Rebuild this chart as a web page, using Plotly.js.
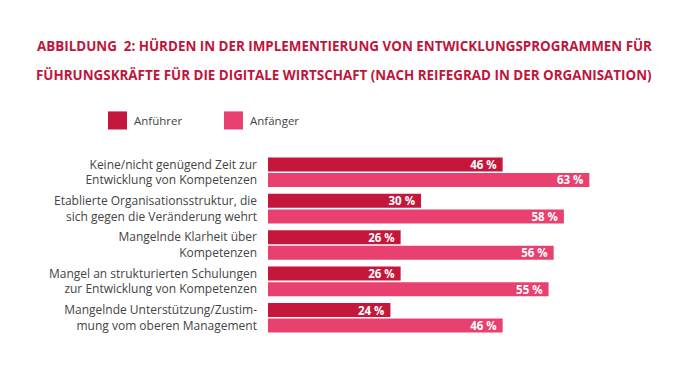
<!DOCTYPE html>
<html><head><meta charset="utf-8">
<script src="https://cdn.plot.ly/plotly-3.0.1.min.js"></script>
<style>body{margin:0;background:#fff}#c{width:696px;height:365px}</style>
</head><body><div id="c"></div>
<script>
var categories = [
  "Keine/nicht genügend Zeit zur<br>Entwicklung von Kompetenzen",
  "Etablierte Organisationsstruktur, die<br>sich gegen die Veränderung wehrt",
  "Mangelnde Klarheit über<br>Kompetenzen",
  "Mangel an strukturierten Schulungen<br>zur Entwicklung von Kompetenzen",
  "Mangelnde Unterstützung/Zustim-<br>mung vom oberen Management"
];
var seriesNames = ["Anführer", "Anfänger"];
var anfuehrer = [46, 30, 26, 26, 24];
var anfaenger = [63, 58, 56, 55, 46];
var colors = ["#C5173B", "#E8406F"];
var titleLines = [
  "ABBILDUNG  2: HÜRDEN IN DER IMPLEMENTIERUNG VON ENTWICKLUNGSPROGRAMMEN FÜR",
  "FÜHRUNGSKRÄFTE FÜR DIE DIGITALE WIRTSCHAFT (NACH REIFEGRAD IN DER ORGANISATION)"
];
var FONT = "Open Sans, sans-serif";
var PL = 268, PW = 428, PB = 335.6, PH = 181.2;
function px(x){ return (x - PL) / PW; }
function py(y){ return (PB - y) / PH; }

function mk(vals, i) {
  return {
    type: "bar", orientation: "h", name: seriesNames[i],
    y: categories, x: vals,
    marker: {color: colors[i]},
    text: vals.map(function(v){ return v + " %\u00a0"; }),
    textposition: "inside", insidetextanchor: "end",
    constraintext: "none",
    textfont: {family: FONT, size: 11.5, color: "#fff", weight: 700},
    hoverinfo: "none", showlegend: false
  };
}
var data = [mk(anfuehrer, 0), mk(anfaenger, 1)];

var shapes = [], annotations = [];
titleLines.forEach(function(t, k){
  annotations.push({xref:"paper", yref:"paper", x:px(344), y: py(k===0 ? 46.5 : 75.5),
    xanchor:"center", yanchor:"middle", showarrow:false, text:t,
    font:{family:FONT, size:13.4, color:"#C0143C", weight:700}});
});
// legend
var legX = [108, 224];
seriesNames.forEach(function(n, i){
  shapes.push({type:"rect", xref:"paper", yref:"paper",
    x0:px(legX[i]), x1:px(legX[i]+19),
    y0:py(130), y1:py(112),
    fillcolor:colors[i], line:{width:0}});
  annotations.push({xref:"paper", yref:"paper", x:px(legX[i]+24), y:py(121),
    xanchor:"left", yanchor:"middle", showarrow:false, text:n,
    font:{family:FONT, size:11.5, color:"#444"}});
});

var layout = {
  width: 696, height: 365,
  margin: {l: PL, r: 0, t: 154.4, b: 29.4},
  paper_bgcolor: "#fff", plot_bgcolor: "#fff",
  barmode: "group", bargap: 0.145, bargroupgap: 0.1,
  xaxis: {range: [0, 83.9], visible: false, fixedrange: true},
  yaxis: {autorange: "reversed", showgrid: false, zeroline: false, showline: false,
    ticks: "", ticklabelstandoff: 10,
    tickfont: {family: FONT, size: 12, color: "#444"}},
  shapes: shapes, annotations: annotations,
  showlegend: false
};
Plotly.newPlot("c", data, layout, {displayModeBar: false, staticPlot: true});
</script></body></html>
